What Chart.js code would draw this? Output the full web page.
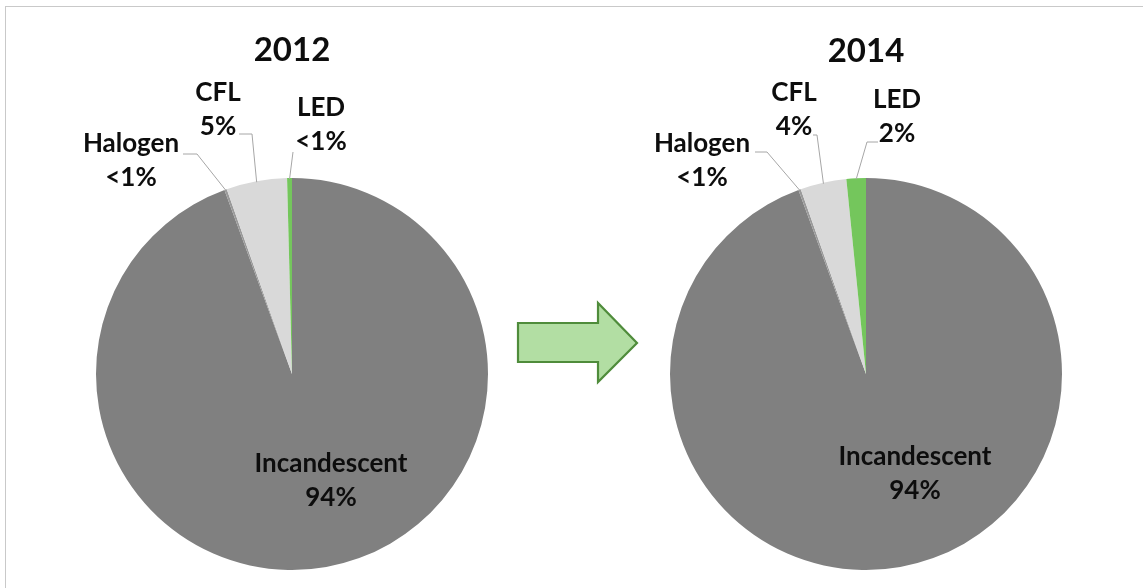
<!DOCTYPE html>
<html>
<head>
<meta charset="utf-8">
<script src="https://cdn.jsdelivr.net/npm/chart.js@4"></script>
<style>
  html, body { margin: 0; padding: 0; background: #fff; }
  #wrap { position: relative; width: 1143px; height: 588px; overflow: hidden; }
  #frame { position: absolute; left: 5px; top: 6px; width: 1200px; height: 700px;
           border-left: 1px solid #c9c9c9; border-top: 1px solid #c9c9c9; }
  canvas { position: absolute; top: 0; }
  #arrow { position: absolute; left: 0; top: 0; }
</style>
</head>
<body>
<div id="wrap">
  <div id="frame"></div>
  <canvas id="pie2012" width="480" height="588" style="left:52px"></canvas>
  <canvas id="pie2014" width="480" height="588" style="left:626px"></canvas>
  <svg id="arrow" width="1143" height="588">
    <polygon points="518,323 598,323 598,303 637,343 598,382 598,362 518,362"
             fill="#b2dea3" stroke="#4f8c3b" stroke-width="2.2" stroke-linejoin="miter"/>
  </svg>
</div>
<script>
// data (percent share)
const categories = ['Incandescent', 'Halogen', 'CFL', 'LED'];
const values2012 = [94.4, 0.2, 5.0, 0.4];
const values2014 = [94.4, 0.2, 3.8, 1.6];
const years = ['2012', '2014'];

const sliceColors = ['#808080', '#9a9a9a', '#d9d9d9', '#74c65c'];
const FONT = 'Lato, "Open Sans", sans-serif';

function pctText(v) {
  return v < 1 ? '<1%' : Math.round(v) + '%';
}

// label layout, offsets from the pie centre; leader = bend points before the slice edge
const layout2012 = {
  title: -324,
  labels: [
    { dx: 39, dy: 90 },
    { dx: -161, dy: -230, leader: [[-109, -220], [-95, -220]] },
    { dx: -74, dy: -281, leader: [[-53, -240], [-40, -240]] },
    { dx: 29, dy: -266, leader: [[1, -222]] }
  ]
};
const layout2014 = {
  title: -323,
  labels: [
    { dx: 49, dy: 83 },
    { dx: -164, dy: -230, leader: [[-111, -222], [-99, -222]] },
    { dx: -72, dy: -281, leader: [[-53, -239], [-49, -239]] },
    { dx: 31, dy: -274, leader: [[12, -232], [1, -232]] }
  ]
};

const pieLabels = {
  id: 'pieLabels',
  afterDraw(chart, args, opts) {
    const ctx = chart.ctx;
    const meta = chart.getDatasetMeta(0);
    const values = chart.data.datasets[0].data;
    const first = meta.data[0].getProps(['x', 'y'], true);
    const cx = first.x, cy = first.y;
    ctx.save();
    ctx.textAlign = 'center';
    ctx.textBaseline = 'middle';
    ctx.fillStyle = '#0d0d0d';
    ctx.font = 'bold 33px ' + FONT;
    ctx.fillText(opts.title, cx, cy + opts.layout.title);

    meta.data.forEach((arc, i) => {
      const p = arc.getProps(['x', 'y', 'startAngle', 'endAngle', 'outerRadius'], true);
      const lab = opts.layout.labels[i];
      if (lab.leader) {
        const mid = (p.startAngle + p.endAngle) / 2;
        ctx.beginPath();
        ctx.strokeStyle = '#a6a6a6';
        ctx.lineWidth = 1;
        lab.leader.forEach((pt, k) => {
          if (k === 0) ctx.moveTo(cx + pt[0], cy + pt[1]);
          else ctx.lineTo(cx + pt[0], cy + pt[1]);
        });
        ctx.lineTo(p.x + Math.cos(mid) * (p.outerRadius - 1), p.y + Math.sin(mid) * (p.outerRadius - 1));
        ctx.stroke();
      }
      ctx.fillStyle = '#0d0d0d';
      ctx.font = 'bold 26px ' + FONT;
      ctx.fillText(chart.data.labels[i], cx + lab.dx, cy + lab.dy);
      ctx.fillText(pctText(values[i]), cx + lab.dx, cy + lab.dy + 34);
    });
    ctx.restore();
  }
};

function makePie(id, values, title, layout) {
  return new Chart(document.getElementById(id), {
    type: 'pie',
    data: {
      labels: categories,
      datasets: [{ data: values, backgroundColor: sliceColors, borderWidth: 0 }]
    },
    options: {
      responsive: false, animation: false, devicePixelRatio: 1,
      layout: { padding: { top: 178, bottom: 18, left: 44, right: 44 } },
      plugins: {
        legend: { display: false },
        tooltip: { enabled: false },
        pieLabels: { title: title, layout: layout }
      }
    },
    plugins: [pieLabels]
  });
}

makePie('pie2012', values2012, years[0], layout2012);
makePie('pie2014', values2014, years[1], layout2014);
</script>
</body>
</html>
